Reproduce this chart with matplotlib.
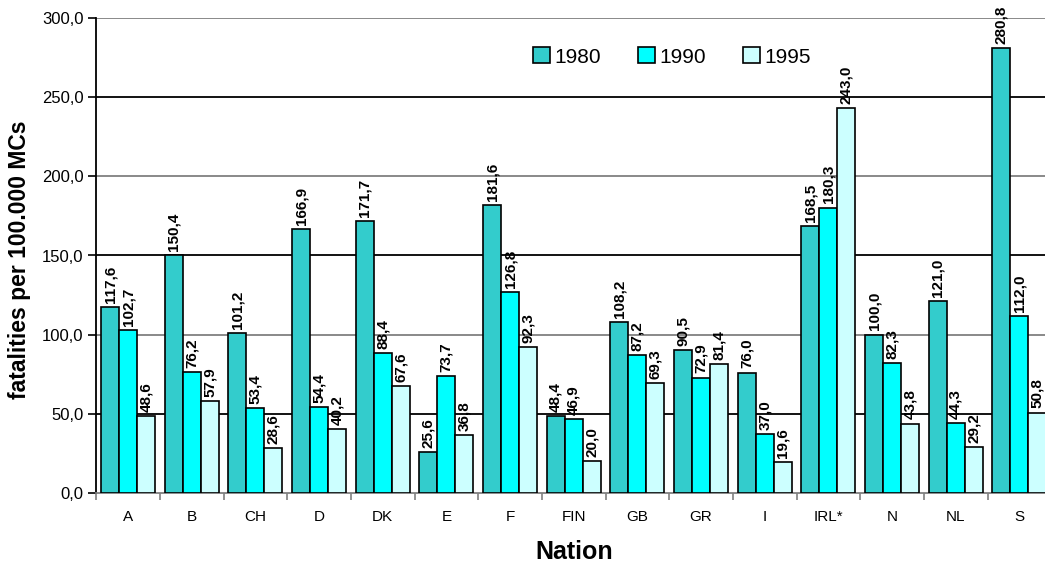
import matplotlib
matplotlib.use("Agg")
import matplotlib.pyplot as plt
import numpy as np
from matplotlib.ticker import FixedLocator, FuncFormatter

plt.rcParams['font.family'] = ['Liberation Sans', 'DejaVu Sans']

nations = ["A", "B", "CH", "D", "DK", "E", "F", "FIN", "GB", "GR", "I", "IRL*", "N", "NL", "S"]
v1980 = [117.6, 150.4, 101.2, 166.9, 171.7, 25.6, 181.6, 48.4, 108.2, 90.5, 76.0, 168.5, 100.0, 121.0, 280.8]
v1990 = [102.7, 76.2, 53.4, 54.4, 88.4, 73.7, 126.8, 46.9, 87.2, 72.9, 37.0, 180.3, 82.3, 44.3, 112.0]
v1995 = [48.6, 57.9, 28.6, 40.2, 67.6, 36.8, 92.3, 20.0, 69.3, 81.4, 19.6, 243.0, 43.8, 29.2, 50.8]
years = ["1980", "1990", "1995"]
colors = ["#33CCCC", "#00FFFF", "#CCFFFF"]

W, H = 1045, 564
fig = plt.figure(figsize=(W / 100, H / 100), dpi=100)
ax = fig.add_axes([96.2 / W, 1 - 493 / H, 955 / W, 475 / H])

x = np.arange(len(nations))
w = 0.283
handles = []
for i, (vals, c, lab) in enumerate(zip([v1980, v1990, v1995], colors, years)):
    pos = x + (i - 1) * w
    b = ax.bar(pos, vals, width=w, color=c, edgecolor="black", linewidth=1.2, label=lab, zorder=3)
    handles.append(b)
    for p, v in zip(pos, vals):
        ax.annotate(f"{v:.1f}".replace(".", ","), xy=(p, v), xytext=(0, 3),
                    textcoords="offset points", rotation=90, ha="center", va="bottom",
                    fontsize=11, fontweight="bold", zorder=4, annotation_clip=False)

ax.set_xlim(-0.5, len(nations) - 0.5)
ax.set_ylim(0, 300)
yt = [0, 50, 100, 150, 200, 250, 300]
ax.set_yticks(yt)
ax.yaxis.set_major_formatter(FuncFormatter(lambda v, p: f"{v:.1f}".replace(".", ",")))
for v in yt[1:]:
    ax.axhline(v, color="black" if v % 100 else "#808080", linewidth=1.3, zorder=1)

ax.set_xticks(x)
ax.set_xticklabels(nations, fontsize=11)
ax.xaxis.set_minor_locator(FixedLocator(np.arange(-0.5, len(nations), 1.0)))
ax.tick_params(axis="x", which="major", length=0, pad=12)
ax.tick_params(axis="x", which="minor", length=5, width=1.2, color="#808080", direction="out")
ax.tick_params(axis="y", length=6, width=1.2, direction="out", labelsize=12, pad=3)

for s in ["top", "right"]:
    ax.spines[s].set_visible(False)
ax.spines["left"].set_linewidth(1.3)
ax.spines["bottom"].set_color("#808080")
ax.spines["bottom"].set_linewidth(1.3)

fig.text(574 / W, 1 - 552 / H, "Nation", fontsize=18, fontweight="bold", ha="center", va="center")
fig.text(20 / W, 1 - 260 / H, "fatalities per 100.000 MCs", fontsize=16.5, fontweight="bold",
         rotation=90, ha="center", va="center")

fig.legend(handles=handles, labels=years, loc="center left", bbox_to_anchor=(533 / W, 1 - 57 / H),
           ncol=3, frameon=False, fontsize=15, handlelength=0.8, handleheight=0.8,
           handletextpad=0.25, columnspacing=1.75, borderpad=0, borderaxespad=0)

fig.savefig("out.png", dpi=100)
